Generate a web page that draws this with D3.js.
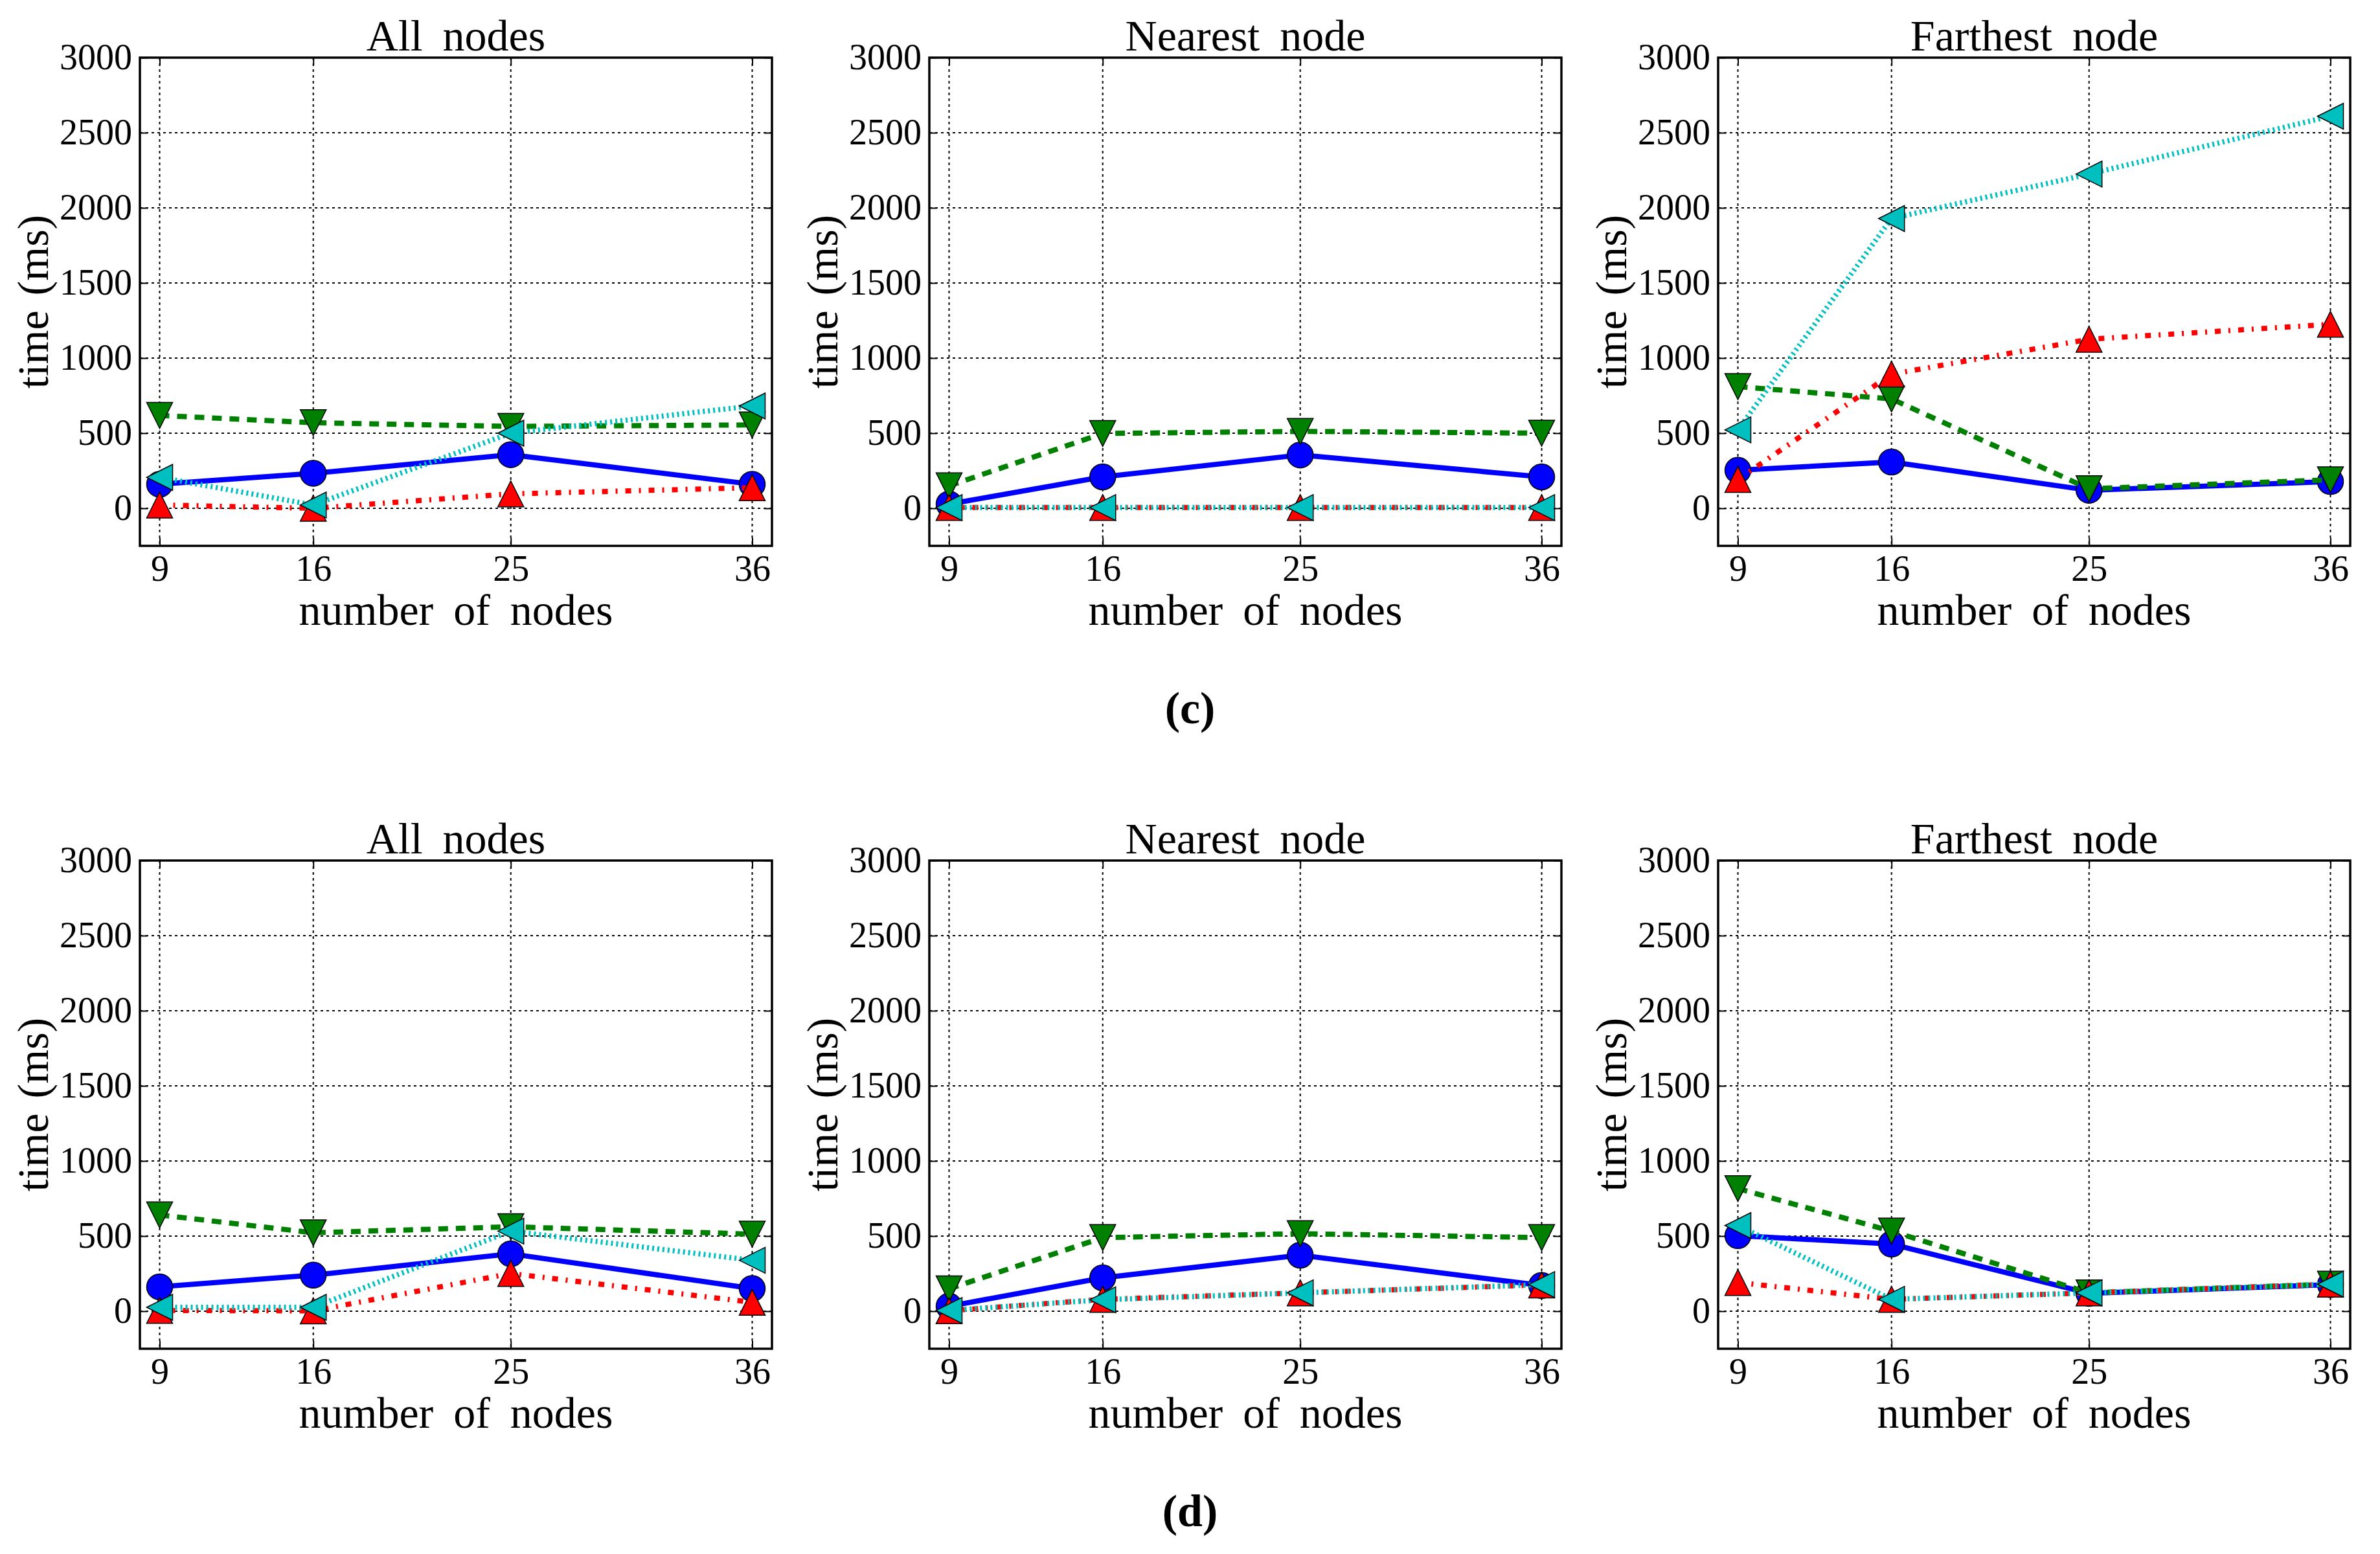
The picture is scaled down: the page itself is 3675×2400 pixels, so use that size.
<!DOCTYPE html>
<html>
<head>
<meta charset="utf-8">
<script src="https://cdn.jsdelivr.net/npm/d3@7"></script>
<style>
  body { margin: 0; background: #fff; }
  svg { display: block; }
  text { font-family: 'Liberation Serif', 'DejaVu Serif', serif; fill: #000; }
</style>
</head>
<body>
<div id="figure"></div>
<script>
const nodeCounts = [9, 16, 25, 36]
const yTicks = [0, 500, 1000, 1500, 2000, 2500, 3000]
const panelTitles = ['All nodes', 'Nearest node', 'Farthest node']
const captions = ['(c)', '(d)']

// (c) time in ms at 9, 16, 25, 36 nodes
const cAllCircle = [160, 233, 357, 160]
const cAllDown = [618, 570, 545, 555]
const cAllUp = [22, 0, 96, 137]
const cAllLeft = [206, 22, 500, 681]

const cNearCircle = [28, 209, 355, 209]
const cNearDown = [150, 498, 512, 500]
const cNearUp = [5, 5, 5, 5]
const cNearLeft = [5, 5, 5, 5]

const cFarCircle = [253, 308, 120, 178]
const cFarDown = [810, 728, 130, 190]
const cFarUp = [192, 893, 1125, 1225]
const cFarLeft = [522, 1929, 2225, 2610]

// (d)
const dAllCircle = [162, 240, 382, 151]
const dAllDown = [641, 522, 562, 513]
const dAllUp = [5, 2, 251, 59]
const dAllLeft = [26, 26, 533, 339]

const dNearCircle = [33, 222, 373, 171]
const dNearDown = [149, 490, 516, 490]
const dNearUp = [3, 79, 122, 175]
const dNearLeft = [5, 76, 122, 177]

const dFarCircle = [503, 447, 119, 177]
const dFarDown = [816, 533, 122, 180]
const dFarUp = [191, 79, 122, 180]
const dFarLeft = [570, 79, 122, 180]

const figureRows = [
  [
    [cAllCircle, cAllDown, cAllUp, cAllLeft],
    [cNearCircle, cNearDown, cNearUp, cNearLeft],
    [cFarCircle, cFarDown, cFarUp, cFarLeft]
  ],
  [
    [dAllCircle, dAllDown, dAllUp, dAllLeft],
    [dNearCircle, dNearDown, dNearUp, dNearLeft],
    [dFarCircle, dFarDown, dFarUp, dFarLeft]
  ]
]

// drawing order matters: later series sit on top
const seriesStyles = [
  { color: '#0000ff', dash: null, marker: 'circle' },
  { color: '#008000', dash: '15,12', marker: 'down' },
  { color: '#ff0000', dash: '9,12,3,12', marker: 'up' },
  { color: '#00bfbf', dash: '3,5', marker: 'left' }
]

const fig = { width: 3675, height: 2400 }
const panel = { width: 976, height: 754 }
const panelLefts = [216, 1435, 2653]
const panelTops = [89, 1329]
const captionBaselines = [1117, 2357]
const markerHalf = 20

const svg = d3.select('#figure')
  .append('svg')
  .attr('width', fig.width)
  .attr('height', fig.height)

svg.append('rect')
  .attr('width', fig.width)
  .attr('height', fig.height)
  .attr('fill', '#fff')

const x = d3.scaleLinear().domain([8.1, 36.9]).range([0, panel.width])
const y = d3.scaleLinear().domain([-250, 3000]).range([panel.height, 0])

function markerPath (kind, r) {
  if (kind === 'up') return `M0,${-r}L${r},${r}L${-r},${r}Z`
  if (kind === 'down') return `M0,${r}L${r},${-r}L${-r},${-r}Z`
  return `M${-r},0L${r},${-r}L${r},${r}Z` // left
}

function drawPanel (g, seriesList, title) {
  // grid (classic dotted)
  g.append('g').selectAll('line')
    .data(nodeCounts)
    .join('line')
    .attr('x1', d => x(d)).attr('x2', d => x(d))
    .attr('y1', 0).attr('y2', panel.height)
  g.append('g').selectAll('line')
    .data(yTicks)
    .join('line')
    .attr('x1', 0).attr('x2', panel.width)
    .attr('y1', d => y(d)).attr('y2', d => y(d))
  g.selectAll('g line')
    .attr('stroke', '#000')
    .attr('stroke-width', 2)
    .attr('stroke-dasharray', '4,5')

  const line = d3.line()
    .x((d, i) => x(nodeCounts[i]))
    .y(d => y(d))

  seriesList.forEach((values, k) => {
    const style = seriesStyles[k]
    const s = g.append('g').classed('series', true)
    s.append('path')
      .attr('d', line(values))
      .attr('fill', 'none')
      .attr('stroke', style.color)
      .attr('stroke-width', 8)
      .attr('stroke-linejoin', 'round')
      .attr('stroke-dasharray', style.dash)

    const marks = s.selectAll('.mark')
      .data(values)
      .join(style.marker === 'circle' ? 'circle' : 'path')
      .classed('mark', true)
      .attr('fill', style.color)
      .attr('stroke', '#000')
      .attr('stroke-width', 1.5)

    if (style.marker === 'circle') {
      marks.attr('cx', (d, i) => x(nodeCounts[i]))
        .attr('cy', d => y(d))
        .attr('r', markerHalf)
    } else {
      marks.attr('d', markerPath(style.marker, markerHalf))
        .attr('transform', (d, i) => `translate(${x(nodeCounts[i])},${y(d)})`)
    }
  })

  // inward ticks on all four sides
  const tickLen = 12
  const axes = [
    g.append('g').attr('transform', `translate(0,${panel.height})`)
      .call(d3.axisBottom(x).tickValues(nodeCounts).tickSizeInner(-tickLen).tickSizeOuter(0).tickPadding(14)),
    g.append('g')
      .call(d3.axisLeft(y).tickValues(yTicks).tickFormat(d3.format('d')).tickSizeInner(-tickLen).tickSizeOuter(0).tickPadding(12)),
    g.append('g')
      .call(d3.axisTop(x).tickValues(nodeCounts).tickSizeInner(-tickLen).tickSizeOuter(0).tickFormat('')),
    g.append('g').attr('transform', `translate(${panel.width},0)`)
      .call(d3.axisRight(y).tickValues(yTicks).tickSizeInner(-tickLen).tickSizeOuter(0).tickFormat(''))
  ]
  axes.forEach(a => {
    a.select('.domain').remove()
    a.attr('font-size', 56).attr('font-family', null)
    a.selectAll('.tick line').attr('stroke', '#000').attr('stroke-width', 2)
  })

  g.append('rect')
    .attr('width', panel.width)
    .attr('height', panel.height)
    .attr('fill', 'none')
    .attr('stroke', '#000')
    .attr('stroke-width', 3.5)

  g.append('text')
    .attr('x', panel.width / 2)
    .attr('y', -11)
    .attr('text-anchor', 'middle')
    .attr('font-size', 68)
    .attr('word-spacing', 14)
    .text(title)

  g.append('text')
    .attr('x', panel.width / 2)
    .attr('y', panel.height + 122)
    .attr('text-anchor', 'middle')
    .attr('font-size', 68)
    .attr('word-spacing', 14)
    .text('number of nodes')

  g.append('text')
    .attr('transform', 'rotate(-90)')
    .attr('x', -panel.height / 2)
    .attr('y', -142)
    .attr('text-anchor', 'middle')
    .attr('font-size', 68)
    .attr('word-spacing', 6)
    .text('time (ms)')
}

figureRows.forEach((row, r) => {
  row.forEach((seriesList, c) => {
    const g = svg.append('g')
      .attr('transform', `translate(${panelLefts[c]},${panelTops[r]})`)
    drawPanel(g, seriesList, panelTitles[c])
  })
  svg.append('text')
    .attr('x', fig.width / 2)
    .attr('y', captionBaselines[r])
    .attr('text-anchor', 'middle')
    .attr('font-size', 70)
    .attr('font-weight', 'bold')
    .text(captions[r])
})
</script>
</body>
</html>
